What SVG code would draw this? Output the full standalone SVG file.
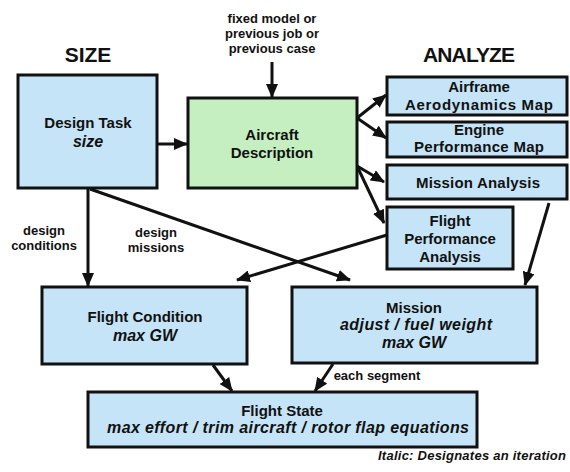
<svg xmlns="http://www.w3.org/2000/svg" width="570" height="472" viewBox="0 0 570 472">
  <style>
    .box { fill: #c6e4f7; stroke: #111; stroke-width: 3; }
    .green { fill: #c5efc0; stroke: #111; stroke-width: 3; }
    text { font-family: "Liberation Sans", Arial, sans-serif; font-weight: bold; fill: #111; text-anchor: middle; }
    .t { font-size: 15px; }
    .it { font-style: italic; font-size: 16px; }
    .title { font-size: 21px; }
    .lbl { font-size: 13px; }
    .conn line { stroke: #111; stroke-width: 3; fill: none; marker-end: url(#arrow); }
  </style>
  <defs>
    <marker id="arrow" markerUnits="userSpaceOnUse" markerWidth="14" markerHeight="12" refX="13" refY="6" orient="auto">
      <path d="M0,0 L14,6 L0,12 z" fill="#111"/>
    </marker>
  </defs>

  <rect width="570" height="472" fill="#fff"/>

  <!-- column titles -->
  <text class="title" x="88" y="62">SIZE</text>
  <text class="title" x="469" y="62" textLength="92">ANALYZE</text>

  <!-- connectors -->
  <g class="conn" id="connectors">
    <line x1="272" y1="62" x2="272" y2="97"/>
    <line x1="157" y1="144" x2="187" y2="144"/>
    <line x1="357" y1="118" x2="386" y2="95"/>
    <line x1="357" y1="118" x2="386" y2="138"/>
    <line x1="357" y1="166" x2="384" y2="182"/>
    <line x1="357" y1="166" x2="384" y2="223"/>
    <line x1="88" y1="189" x2="88" y2="286"/>
    <line x1="90" y1="189" x2="350" y2="280"/>
    <line x1="387" y1="235" x2="237" y2="280"/>
    <line x1="549" y1="203" x2="525" y2="285"/>
    <line x1="213" y1="365" x2="232" y2="391"/>
    <line x1="333" y1="364" x2="315" y2="391"/>
  </g>

  <!-- connector labels -->
  <text class="lbl" x="272" y="23">fixed model or</text>
  <text class="lbl" x="272" y="38">previous job or</text>
  <text class="lbl" x="272" y="53">previous case</text>
  <text class="lbl" x="44" y="235">design</text>
  <text class="lbl" x="44" y="250">conditions</text>
  <text class="lbl" x="156" y="237">design</text>
  <text class="lbl" x="156" y="252">missions</text>
  <text class="lbl" x="377" y="380">each segment</text>

  <g id="design-task">
    <rect class="box" x="18" y="75" width="139" height="113"/>
    <text class="t" x="88" y="128">Design Task</text>
    <text class="it" x="88" y="147">size</text>
  </g>

  <g id="aircraft-description">
    <rect class="green" x="188" y="98" width="169" height="90"/>
    <text class="t" x="272" y="140">Aircraft</text>
    <text class="t" x="272" y="158">Description</text>
  </g>

  <g id="airframe-map">
    <rect class="box" x="387" y="77" width="180" height="38"/>
    <text class="t" x="479" y="92">Airframe</text>
    <text class="t" x="479" y="110" textLength="148">Aerodynamics Map</text>
  </g>

  <g id="engine-map">
    <rect class="box" x="387" y="122" width="180" height="35"/>
    <text class="t" x="479" y="135">Engine</text>
    <text class="t" x="479" y="152" textLength="130">Performance Map</text>
  </g>

  <g id="mission-analysis">
    <rect class="box" x="387" y="165" width="180" height="34"/>
    <text class="t" x="478" y="188" textLength="124">Mission Analysis</text>
  </g>

  <g id="flight-performance">
    <rect class="box" x="387" y="207" width="126" height="62"/>
    <text class="t" x="450" y="226">Flight</text>
    <text class="t" x="450" y="244">Performance</text>
    <text class="t" x="450" y="262">Analysis</text>
  </g>

  <g id="flight-condition">
    <rect class="box" x="42" y="287" width="205" height="77"/>
    <text class="t" x="145" y="322">Flight Condition</text>
    <text class="it" x="145" y="341">max GW</text>
  </g>

  <g id="mission">
    <rect class="box" x="292" y="287" width="245" height="76"/>
    <text class="t" x="414" y="313">Mission</text>
    <text class="it" x="416" y="330" textLength="152">adjust / fuel weight</text>
    <text class="it" x="414" y="348">max GW</text>
  </g>

  <g id="flight-state">
    <rect class="box" x="88" y="392" width="389" height="55"/>
    <text class="t" x="282" y="416">Flight State</text>
    <text class="it" x="288" y="433" textLength="362">max effort / trim aircraft / rotor flap equations</text>
  </g>

  <text class="lbl it" x="566" y="460" style="text-anchor:end;font-size:13px" textLength="188">Italic: Designates an iteration</text>
</svg>
